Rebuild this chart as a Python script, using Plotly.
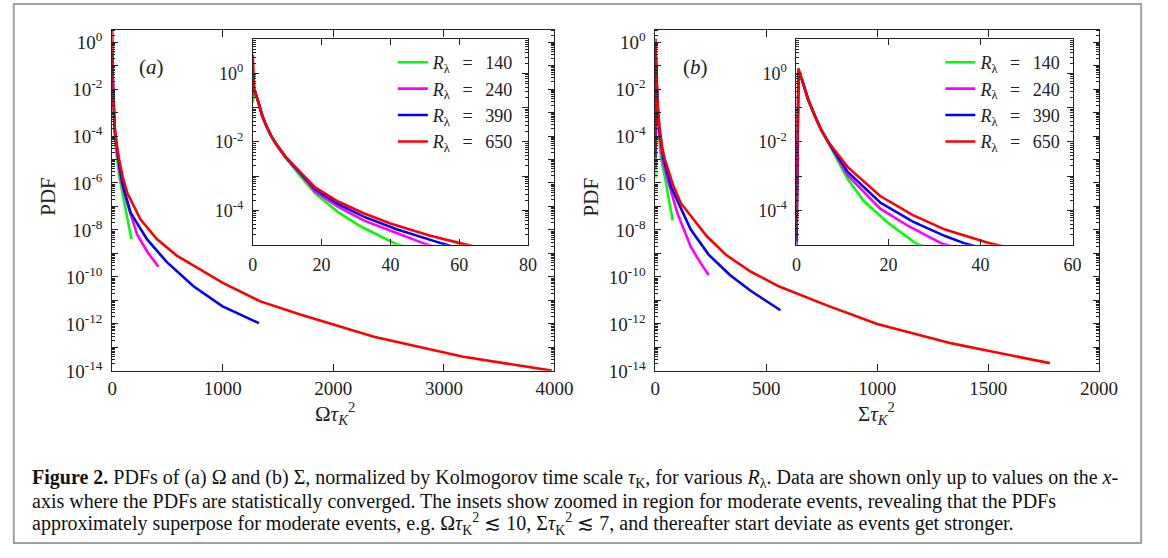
import plotly.graph_objects as go

# ---------------- data (log10 of PDF) ----------------
SP = "\u2002\u2009"
labels = [f"<i>R</i><sub>λ</sub>{SP}={SP}140", f"<i>R</i><sub>λ</sub>{SP}={SP}240",
          f"<i>R</i><sub>λ</sub>{SP}={SP}390", f"<i>R</i><sub>λ</sub>{SP}={SP}650"]
colors = ["#00ff00", "#ff00ff", "#0000ff", "#ff0000"]

# Panel (a): Omega tau_K^2
om_x_140 = [0, 0.4, 1.5, 2.8, 3.9, 5.2, 6.7, 9.6, 13.4, 18.1, 24.8, 31.4, 41.4, 60, 93, 137, 173]
om_lp_140 = [-0.85, -0.45, -0.8, -1.25, -1.52, -1.8, -2.06, -2.47, -2.95, -3.5, -4.05, -4.47, -4.97, -5.6, -6.45, -7.55, -8.39]
om_x_240 = [0, 0.4, 1.5, 2.8, 3.9, 5.2, 6.7, 9.6, 13.4, 18.1, 24.8, 32.4, 41.8, 49.9, 78, 137, 226, 320, 418]
om_lp_240 = [-0.65, -0.45, -0.8, -1.25, -1.52, -1.8, -2.05, -2.45, -2.88, -3.45, -3.9, -4.3, -4.66, -4.97, -5.85, -6.9, -8.2, -8.95, -9.57]
om_x_390 = [0, 0.4, 1.5, 2.8, 3.9, 5.2, 6.7, 9.6, 13.4, 18.1, 24.8, 32.4, 41.8, 55.1, 93, 167, 314, 492, 735, 994, 1327]
om_lp_390 = [-0.5, -0.45, -0.8, -1.25, -1.52, -1.8, -2.05, -2.45, -2.86, -3.38, -3.82, -4.19, -4.55, -4.97, -6.05, -7.28, -8.39, -9.36, -10.4, -11.24, -11.97]
om_x_650 = [0, 0.4, 1.5, 2.8, 3.9, 5.2, 6.7, 9.6, 13.4, 18.1, 24.8, 32.4, 40, 51.3, 60.8, 95, 137, 255, 403, 580, 787, 1000, 1333, 1700, 2367, 2987, 3164, 3976]
om_lp_650 = [0.55, -0.45, -0.8, -1.25, -1.52, -1.8, -2.05, -2.45, -2.84, -3.33, -3.74, -4.09, -4.38, -4.73, -4.97, -5.75, -6.44, -7.55, -8.39, -9.08, -9.64, -10.25, -11.03, -11.6, -12.55, -13.18, -13.39, -13.99]

# Panel (b): Sigma tau_K^2
si_x_140 = [0, 0.43, 1.13, 1.84, 2.55, 3.97, 5.39, 6.81, 8.23, 11.1, 14.6, 19.6, 26, 40, 56, 68, 78]
si_lp_140 = [-5.8, -0.1, -0.15, -0.43, -0.76, -1.23, -1.66, -2.0, -2.35, -3.08, -3.72, -4.33, -4.97, -5.6, -6.5, -7.1, -7.6]
si_x_240 = [0, 0.43, 1.13, 1.84, 2.55, 3.97, 5.39, 6.81, 8.23, 11.1, 18.2, 24.5, 31.6, 56, 100, 159, 200, 240]
si_lp_240 = [-5.4, -0.05, -0.15, -0.43, -0.76, -1.23, -1.65, -1.98, -2.3, -2.97, -3.95, -4.47, -4.97, -5.89, -7.3, -8.7, -9.35, -9.92]
si_x_390 = [0, 0.43, 1.13, 1.84, 2.55, 3.97, 5.39, 6.81, 8.23, 11.1, 18.2, 25.3, 32.3, 36.7, 71, 159, 240, 336, 431, 564]
si_lp_390 = [-4.9, 0.0, -0.15, -0.43, -0.76, -1.23, -1.65, -1.98, -2.27, -2.87, -3.77, -4.33, -4.75, -4.97, -6.17, -7.97, -9.05, -9.92, -10.6, -11.42]
si_x_650 = [0, 0.43, 1.13, 1.84, 2.55, 3.97, 5.39, 6.81, 8.23, 11.1, 18.2, 25.3, 32.3, 42.3, 80, 115, 233, 321, 431, 556, 770, 1000, 1336, 1500, 1778]
si_lp_650 = [-4.5, 0.15, -0.15, -0.43, -0.76, -1.23, -1.65, -1.98, -2.24, -2.73, -3.58, -4.14, -4.56, -4.97, -6.1, -6.86, -8.28, -9.08, -9.78, -10.4, -11.2, -12.0, -12.83, -13.14, -13.67]

main_a_xticks = [0, 1000, 2000, 3000, 4000]
main_b_xticks = [0, 500, 1000, 1500, 2000]
inset_a_xticks = [0, 20, 40, 60, 80]
inset_b_xticks = [0, 20, 40, 60]
main_decades = list(range(-14, 1))
inset_decades = list(range(-5, 2))

om_series = [(om_x_140, om_lp_140), (om_x_240, om_lp_240), (om_x_390, om_lp_390), (om_x_650, om_lp_650)]
si_series = [(si_x_140, si_lp_140), (si_x_240, si_lp_240), (si_x_390, si_lp_390), (si_x_650, si_lp_650)]

# ---------------- figure ----------------
W, H = 1168, 558
FONT = "Liberation Serif"
INK = "#222222"


def px(x):
    return x / W


def py(y):
    return 1 - y / H


fig = go.Figure()

for (sx, slp), col, lab in zip(om_series, colors, labels):
    yv = [10 ** v for v in slp]
    fig.add_trace(go.Scatter(x=sx, y=yv, mode="lines", line=dict(color=col, width=2.6),
                             xaxis="x", yaxis="y", showlegend=False, hoverinfo="skip"))
    fig.add_trace(go.Scatter(x=sx, y=yv, mode="lines", line=dict(color=col, width=2.6),
                             xaxis="x2", yaxis="y2", name=lab, legend="legend", hoverinfo="skip"))
for (sx, slp), col, lab in zip(si_series, colors, labels):
    yv = [10 ** v for v in slp]
    fig.add_trace(go.Scatter(x=sx, y=yv, mode="lines", line=dict(color=col, width=2.6),
                             xaxis="x3", yaxis="y3", showlegend=False, hoverinfo="skip"))
    fig.add_trace(go.Scatter(x=sx, y=yv, mode="lines", line=dict(color=col, width=2.6),
                             xaxis="x4", yaxis="y4", name=lab, legend="legend2", hoverinfo="skip"))


def sup_label(k):
    return "10<sup>%d</sup>" % k


def log_axis(domain, rng, decades, label_every, fs, standoff, anchor):
    tv = [10.0 ** k for k in decades]
    tt = [sup_label(k) if (k % label_every == 0) else "" for k in decades]
    minor_vals = [m * 10.0 ** k for k in range(decades[0] - 1, decades[-1] + 1) for m in range(2, 10)]
    return dict(type="log", domain=domain, range=rng, anchor=anchor,
                tickmode="array", tickvals=tv, ticktext=tt,
                ticks="inside", ticklen=6, tickwidth=1, tickcolor=INK,
                minor=dict(tickmode="array", tickvals=minor_vals, ticks="inside", ticklen=3,
                           tickwidth=1, tickcolor=INK, showgrid=False),
                showline=True, linecolor=INK, linewidth=1, mirror="allticks",
                showgrid=False, zeroline=False,
                tickfont=dict(family=FONT, size=fs, color=INK),
                ticklabelstandoff=standoff)


def lin_axis(domain, rng, ticks, fs, anchor, ticklen=7, standoff=0):
    return dict(domain=domain, range=rng, anchor=anchor,
                tickmode="array", tickvals=ticks, ticktext=[str(t) for t in ticks],
                ticks="inside", ticklen=ticklen, tickwidth=1, tickcolor=INK,
                showline=True, linecolor=INK, linewidth=1, mirror="allticks",
                showgrid=False, zeroline=False,
                tickfont=dict(family=FONT, size=fs, color=INK),
                ticklabelstandoff=standoff)


main_ydom = [py(378), py(29.5)]
inset_ydom = [py(249), py(39)]

fig.update_layout(
    width=W, height=H, margin=dict(l=0, r=0, t=0, b=0),
    paper_bgcolor="white", plot_bgcolor="white",
    xaxis=lin_axis([px(109.5), px(561)], [0, 4000], main_a_xticks, 19, "y"),
    yaxis=log_axis(main_ydom, [-14, 0.52], main_decades, 2, 19, 5, "x"),
    xaxis2=lin_axis([px(253), px(534)], [0, 80], inset_a_xticks, 18, "y2", 6, 4),
    yaxis2=log_axis(inset_ydom, [-5, 1], inset_decades, 2, 18, 5, "x2"),
    xaxis3=lin_axis([px(664), px(1117)], [0, 2000], main_b_xticks, 19, "y3"),
    yaxis3=log_axis(main_ydom, [-14, 0.52], main_decades, 2, 19, 5, "x3"),
    xaxis4=lin_axis([px(808), px(1090)], [0, 60], inset_b_xticks, 18, "y4", 6, 4),
    yaxis4=log_axis(inset_ydom, [-5, 1], inset_decades, 2, 18, 5, "x4"),
    legend=dict(x=px(396), y=py(44), xanchor="left", yanchor="top",
                bgcolor="rgba(0,0,0,0)", font=dict(family=FONT, size=18, color=INK),
                itemwidth=30, tracegroupgap=0),
    legend2=dict(x=px(955), y=py(44), xanchor="left", yanchor="top",
                 bgcolor="rgba(0,0,0,0)", font=dict(family=FONT, size=18, color=INK),
                 itemwidth=30, tracegroupgap=0),
    showlegend=True,
)

ann = []


def add_text(text, x, y, size, angle=0, xanchor="center"):
    ann.append(dict(text=text, x=px(x), y=py(y), xref="paper", yref="paper",
                    xanchor=xanchor, yanchor="middle", textangle=angle, showarrow=False,
                    font=dict(family=FONT, size=size, color=INK)))


add_text("(<i>a</i>)", 150, 67, 21)
add_text("(<i>b</i>)", 705, 67, 21)
add_text("PDF", 44, 200, 21, angle=-90)
add_text("PDF", 598, 200, 21, angle=-90)
add_text("Ω<i>τ</i><sub><i>K</i></sub><sup>2</sup>", 337, 422, 21)
add_text("Σ<i>τ</i><sub><i>K</i></sub><sup>2</sup>", 890, 422, 21)

cap = [
    "<b>Figure 2.</b> PDFs of (a) Ω and (b) Σ, normalized by Kolmogorov time scale <i>τ</i><sub>K</sub>, "
    "for various <i>R</i><sub>λ</sub>. Data are shown only up to values on the <i>x</i>-",
    "axis where the PDFs are statistically converged. The insets show zoomed in region for moderate events, "
    "revealing that the PDFs",
    "approximately superpose for moderate events, e.g. Ω<i>τ</i><sub>K</sub><sup>2</sup> ≲ 10, "
    "Σ<i>τ</i><sub>K</sub><sup>2</sup> ≲ 7, and thereafter start deviate as events get stronger.",
]
for line, yc in zip(cap, (488, 511, 535)):
    ann.append(dict(text=line, x=px(26), y=py(yc), xref="paper", yref="paper", xanchor="left",
                    yanchor="middle", showarrow=False, font=dict(family=FONT, size=20, color="#111")))
fig.update_layout(annotations=ann)

fig.add_shape(type="rect", xref="paper", yref="paper", x0=px(9), x1=px(1160), y0=py(554), y1=py(3),
              line=dict(color="#a0a0a0", width=2), fillcolor="rgba(0,0,0,0)", layer="below")

fig.write_html("out.html")
